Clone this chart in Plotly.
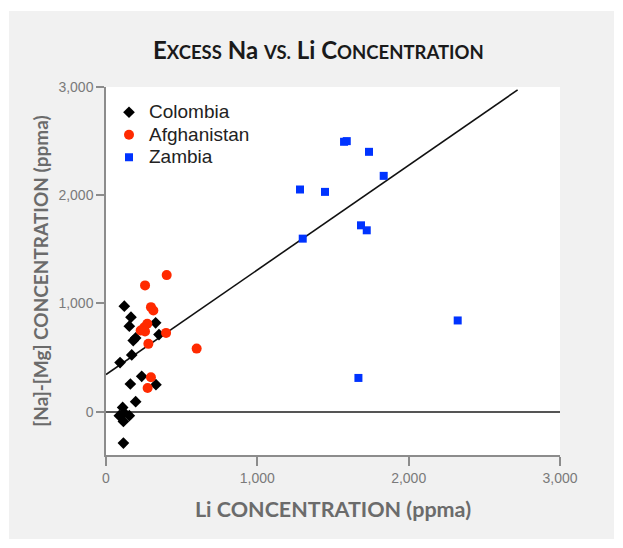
import plotly.graph_objects as go

# ---- data ----
colombia_x = [121, 165, 154, 328, 350, 180, 196, 170, 93, 236, 161, 330, 196, 110, 88, 154, 115, 120, 115]
colombia_y = [975, 873, 790, 821, 713, 657, 682, 525, 454, 327, 256, 250, 93, 40, -37, -37, -90, -10, -290]

afghanistan_x = [401, 258, 297, 313, 273, 253, 229, 258, 397, 280, 599, 297, 275]
afghanistan_y = [1262, 1167, 966, 935, 812, 781, 750, 741, 728, 627, 583, 318, 219]

zambia_x = [1573, 1591, 1738, 1835, 1282, 1447, 1685, 1723, 1300, 2324, 1668]
zambia_y = [2494, 2500, 2401, 2179, 2053, 2031, 1722, 1676, 1599, 843, 312]

trend_x = [0, 2720]
trend_y = [343, 2973]

x_ticks = [0, 1000, 2000, 3000]
y_ticks = [0, 1000, 2000, 3000]
tick_labels = ["0", "1,000", "2,000", "3,000"]

W, H = 623, 548
L, R, T, B = 106, 560, 87, 455

def big(name):
    return '<span style="font-size:19px">' + name + '</span>'

fig = go.Figure()
fig.add_trace(go.Scatter(x=trend_x, y=trend_y, mode="lines",
                         line=dict(color="#111111", width=1.6), showlegend=False, hoverinfo="skip"))
fig.add_trace(go.Scatter(x=colombia_x, y=colombia_y, mode="markers", name=big("Colombia"),
                         marker=dict(symbol="diamond", size=9, color="#000000")))
fig.add_trace(go.Scatter(x=afghanistan_x, y=afghanistan_y, mode="markers", name=big("Afghanistan"),
                         marker=dict(symbol="circle", size=10, color="#ff2a00")))
fig.add_trace(go.Scatter(x=zambia_x, y=zambia_y, mode="markers", name=big("Zambia"),
                         marker=dict(symbol="square", size=8, color="#0033ff")))

pw, ph = R - L, B - T
def px(xp):
    return (xp - L) / pw
def py(yp):
    return (B - yp) / ph

shapes = [
    dict(type="rect", xref="paper", yref="paper", x0=px(9), x1=px(614), y0=py(539), y1=py(11),
         fillcolor="#f1f1f1", line=dict(width=0), layer="below"),
    dict(type="rect", xref="paper", yref="paper", x0=0, x1=1, y0=0, y1=1,
         fillcolor="#ffffff", line=dict(width=0), layer="below"),
]

small = '<span style="font-size:18.5px">'
title_text = ("<b>E" + small + "XCESS</span> Na " + small + "VS.</span> Li C"
              + small + "ONCENTRATION</span></b>")

title_font = "Lato, Open Sans, sans-serif"

fig.update_layout(
    width=W, height=H,
    margin=dict(l=L, r=W - R, t=T, b=H - B),
    paper_bgcolor="#ffffff", plot_bgcolor="#ffffff",
    shapes=shapes,
    showlegend=True,
    legend=dict(x=px(109), y=py(96), xanchor="left", yanchor="top",
                bgcolor="rgba(0,0,0,0)", borderwidth=0,
                font=dict(family="Liberation Sans, Arial, sans-serif", size=15, color="#222222"),
                tracegroupgap=0, itemwidth=30),
    annotations=[
        dict(text=title_text, xref="paper", yref="paper", x=px(318), y=py(49),
             showarrow=False, xanchor="center", yanchor="middle",
             font=dict(family=title_font, size=24, color="#1a1a1a")),
    ],
    xaxis=dict(range=[0, 3000], tickvals=x_ticks, ticktext=tick_labels,
               showgrid=False, zeroline=False, showline=True, linecolor="#8c8c8c", linewidth=1.5,
               ticks="outside", ticklen=9, tickwidth=1.5, tickcolor="#8c8c8c",
               tickfont=dict(family="Liberation Sans, Arial, sans-serif", size=14, color="#7a7a7a"),
               title=dict(text="<b>Li CONCENTRATION (ppma)</b>", standoff=17,
                          font=dict(family=title_font, size=21.5, color="#6b6b6b"))),
    yaxis=dict(range=[-400, 3000], tickvals=y_ticks, ticktext=tick_labels,
               showgrid=False, zeroline=True, zerolinecolor="#555555", zerolinewidth=1.5,
               showline=True, linecolor="#8c8c8c", linewidth=1.5,
               ticks="outside", ticklen=8, tickwidth=1.5, tickcolor="#8c8c8c",
               tickfont=dict(family="Liberation Sans, Arial, sans-serif", size=14, color="#7a7a7a"),
               title=dict(text="<b>[Na]-[Mg] CONCENTRATION (ppma)</b>", standoff=5,
                          font=dict(family=title_font, size=19, color="#6b6b6b"))),
)

fig.write_html("out.html", config={"displayModeBar": False},
               post_script="document.body.style.margin='0';")
